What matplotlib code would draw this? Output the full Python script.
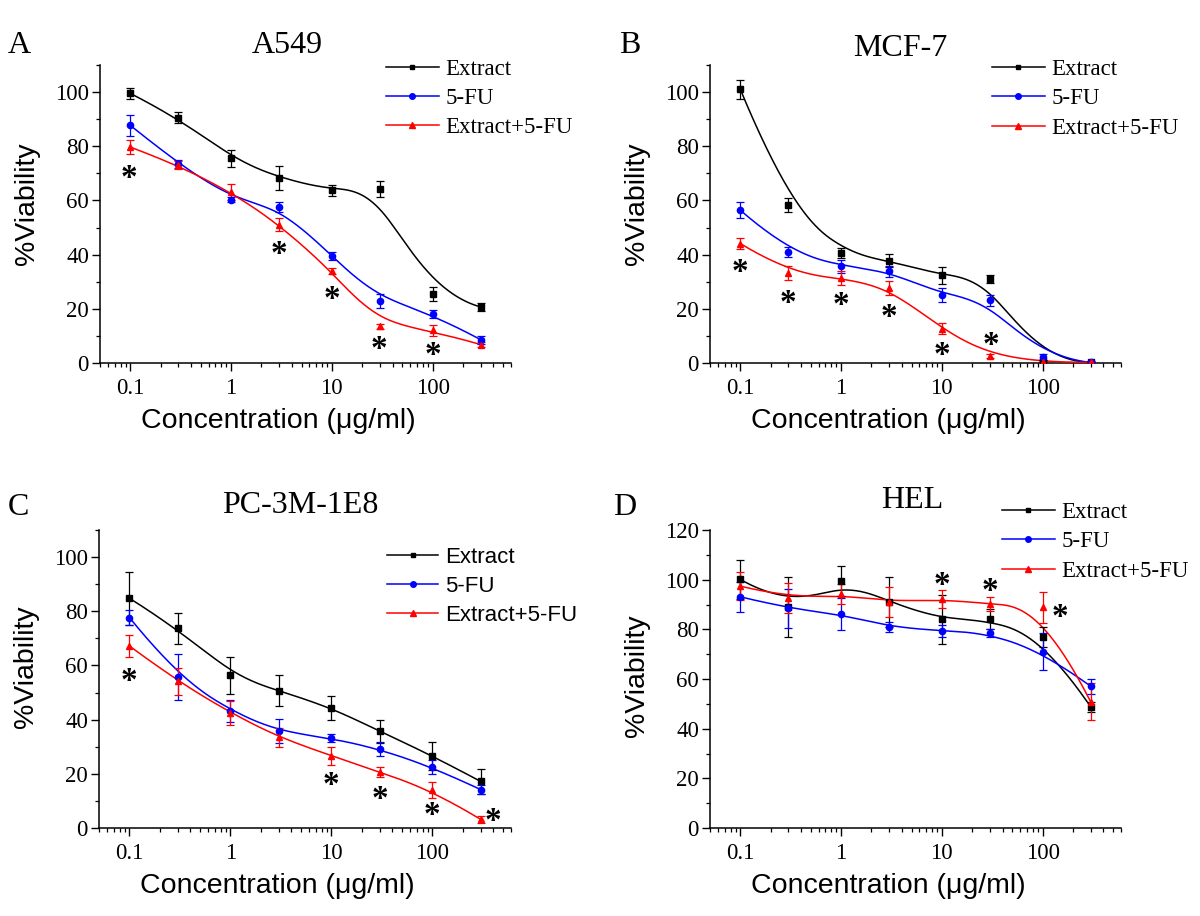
import numpy as np
import matplotlib
matplotlib.use("Agg")
import matplotlib.pyplot as plt
from matplotlib.lines import Line2D
from matplotlib.ticker import LogLocator, NullFormatter, FixedLocator, MultipleLocator
from matplotlib.textpath import TextPath
from matplotlib.font_manager import FontProperties

# ---------------- data ----------------
conc = [0.1, 0.3, 1, 3, 10, 30, 100, 300]
conc_labels = ["0.1", "1", "10", "100"]
conc_ticks = [0.1, 1, 10, 100]
series_names = ["Extract", "5-FU", "Extract+5-FU"]

# Panel A  (A549)
a549_extract = [99.5, 90.5, 75.5, 68.4, 63.7, 64.3, 25.5, 20.7]
a549_extract_err = [2.0, 2.0, 3.0, 4.5, 2.0, 3.0, 2.5, 1.5]
a549_fu = [87.7, 73.5, 60.3, 57.6, 39.6, 22.9, 18.2, 8.6]
a549_fu_err = [4.0, 1.5, 1.0, 2.0, 1.5, 2.5, 1.5, 1.5]
a549_combo = [79.7, 73.0, 63.2, 51.1, 33.9, 13.5, 12.0, 6.8]
a549_combo_err = [2.5, 1.5, 3.0, 2.5, 1.0, 1.0, 2.0, 1.0]
a549_star_x = [0.096, 3, 10, 29, 100]
a549_star_y = [70.8, 42.5, 25.9, 7.6, 5.5]

# Panel B  (MCF-7)
mcf7_extract = [101.0, 58.3, 40.6, 37.8, 32.3, 31.0, 0.6, 0.2]
mcf7_extract_err = [3.5, 2.5, 2.0, 2.5, 3.0, 1.5, 0.4, 0.3]
mcf7_fu = [56.4, 41.0, 35.7, 33.9, 25.2, 23.1, 2.2, 0.2]
mcf7_fu_err = [3.0, 2.0, 2.5, 2.0, 2.5, 2.0, 1.0, 0.4]
mcf7_combo = [44.1, 33.3, 31.4, 27.7, 12.6, 2.7, 0.3, 0.2]
mcf7_combo_err = [2.0, 2.5, 2.5, 2.5, 2.0, 0.8, 0.3, 0.3]
mcf7_star_x = [0.1, 0.3, 1, 3, 10, 31]
mcf7_star_y = [36.1, 24.6, 23.8, 19.3, 5.5, 9.2]

# Panel C  (PC-3M-1E8)
pc3_extract = [84.8, 73.7, 56.4, 50.7, 44.4, 35.7, 26.7, 17.2]
pc3_extract_err = [9.7, 5.7, 6.8, 5.7, 4.4, 4.3, 5.2, 4.6]
pc3_fu = [77.7, 55.8, 43.1, 35.7, 33.1, 29.2, 22.5, 14.2]
pc3_fu_err = [2.7, 8.4, 4.0, 4.5, 1.5, 2.7, 2.7, 1.5]
pc3_combo = [67.2, 54.1, 42.5, 33.5, 26.7, 20.6, 13.9, 3.2]
pc3_combo_err = [4.0, 5.0, 4.5, 3.5, 3.3, 1.8, 3.0, 1.2]
pc3_star_x = [0.1, 10, 30, 100, 400]
pc3_star_y = [56.8, 18.2, 13.3, 7.1, 5.0]

# Panel D  (HEL)
hel_extract = [100.1, 89.1, 99.6, 91.1, 84.0, 84.0, 77.0, 48.8]
hel_extract_err = [7.8, 12.0, 6.0, 10.0, 10.0, 4.0, 4.0, 2.0]
hel_fu = [93.1, 88.4, 86.2, 81.0, 79.4, 78.6, 71.0, 57.1]
hel_fu_err = [6.0, 8.0, 6.5, 2.0, 2.5, 1.5, 7.5, 3.0]
hel_combo = [97.4, 92.7, 94.1, 91.1, 92.1, 90.2, 88.8, 50.8]
hel_combo_err = [5.5, 6.0, 4.0, 6.0, 3.7, 2.7, 6.4, 7.4]
hel_star_x = [10, 30, 148]
hel_star_y = [100.5, 98.3, 87.8]

# ---------------- helpers ----------------
SERIF = "Liberation Serif"
SANS = "Liberation Sans"
COLORS = ["black", "#0000ff", "#ff0000"]
MARKERS = ["s", "o", "^"]
MSIZES = [4.0, 4.5, 5.0]


def bspline_curve(xs, ys, npts=400, k=3):
    """Clamped uniform cubic B-spline using the data points as control points (log-x space)."""
    px = np.log10(np.asarray(xs, float))
    py = np.asarray(ys, float)
    m = len(px)
    t = np.r_[np.zeros(k + 1), np.arange(1, m - k), np.full(k + 1, m - k)].astype(float)
    u = np.linspace(0, m - k, npts)
    nk = len(t)
    N = np.zeros((npts, nk - 1))
    for i in range(nk - 1):
        if t[i] < t[i + 1]:
            N[:, i] = (u >= t[i]) & (u < t[i + 1])
    last = max(i for i in range(nk - 1) if t[i] < t[i + 1])
    N[-1, :] = 0
    N[-1, last] = 1
    for d in range(1, k + 1):
        Nn = np.zeros((npts, nk - 1 - d))
        for i in range(nk - 1 - d):
            a = np.zeros(npts)
            b = np.zeros(npts)
            den1 = t[i + d] - t[i]
            den2 = t[i + d + 1] - t[i + 1]
            if den1 > 0:
                a = (u - t[i]) / den1 * N[:, i]
            if den2 > 0:
                b = (t[i + d + 1] - u) / den2 * N[:, i + 1]
            Nn[:, i] = a + b
        N = Nn
    cx = N @ px
    cy = N @ py
    return 10 ** cx, cy


def star(ax, xs, ys, ink_h_px=12.5):
    prop = FontProperties(family=SERIF, weight="bold")
    tp = TextPath((0, 0), "*", size=1, prop=prop)
    ext = tp.get_extents()
    ink_h_pt = ink_h_px * 72 / fig.dpi
    fs = ink_h_pt / ext.height
    cx = (ext.x0 + ext.x1) / 2 * fs
    cy = (ext.y0 + ext.y1) / 2 * fs
    for x, y in zip(xs, ys):
        ax.annotate("*", xy=(x, y), xytext=(-cx, -cy), textcoords="offset points",
                    ha="left", va="baseline", fontsize=fs, family=SERIF, weight="bold",
                    color="black")


def px2fig(x, y):
    return x / W, 1 - y / H


W, H = 1200, 916
fig = plt.figure(figsize=(W / 100, H / 100), dpi=100)

panels = [
    dict(box=(100, 363, 411, 298), ylim=(0, 110), ymajor=20,
         data=[(a549_extract, a549_extract_err), (a549_fu, a549_fu_err), (a549_combo, a549_combo_err)],
         stars=(a549_star_x, a549_star_y), title="A549", title_xy=(287, 53), letter="A", letter_xy=(8, 53),
         leg_xy=(386, 58.5), leg_font=SERIF, leg_fs=16.5, ylab_y=0.534),
    dict(box=(710, 363, 411, 298), ylim=(0, 110), ymajor=20,
         data=[(mcf7_extract, mcf7_extract_err), (mcf7_fu, mcf7_fu_err), (mcf7_combo, mcf7_combo_err)],
         stars=(mcf7_star_x, mcf7_star_y), title="MCF-7", title_xy=(900, 56), letter="B", letter_xy=(619, 53),
         leg_xy=(992, 59), leg_font=SERIF, leg_fs=16.5, ylab_y=0.534),
    dict(box=(99, 828, 412, 298), ylim=(0, 110), ymajor=20,
         data=[(pc3_extract, pc3_extract_err), (pc3_fu, pc3_fu_err), (pc3_combo, pc3_combo_err)],
         stars=(pc3_star_x, pc3_star_y), title="PC-3M-1E8", title_xy=(300, 513), letter="C", letter_xy=(8, 515),
         leg_xy=(387, 547), leg_font=SANS, leg_fs=16, ylab_y=0.54),
    dict(box=(710, 828, 411, 298), ylim=(0, 120), ymajor=20,
         data=[(hel_extract, hel_extract_err), (hel_fu, hel_fu_err), (hel_combo, hel_combo_err)],
         stars=(hel_star_x, hel_star_y), title="HEL", title_xy=(912, 508), letter="D", letter_xy=(613, 515),
         leg_xy=(1002, 502), leg_font=SERIF, leg_fs=16.5, ylab_y=0.51),
]

for p in panels:
    left, bottom, w, h = p["box"]
    ax = fig.add_axes([left / W, 1 - bottom / H, w / W, h / H])
    ax.set_xscale("log")
    ax.set_xlim(0.05, 600)
    ax.set_ylim(*p["ylim"])
    for s in ["top", "right"]:
        ax.spines[s].set_visible(False)
    for s in ["left", "bottom"]:
        ax.spines[s].set_linewidth(1.1)
    handles = []
    for (vals, errs), c, mk, ms, name in zip(p["data"], COLORS, MARKERS, MSIZES, series_names):
        cx, cy = bspline_curve(conc, vals)
        ax.plot(cx, cy, color=c, lw=1.1, zorder=3)
        ax.errorbar(conc, vals, yerr=errs, fmt="none", ecolor=c, elinewidth=0.9,
                    capsize=3.2, capthick=0.9, zorder=4)
        ax.plot(conc, vals, linestyle="none", marker=mk, ms=ms, color=c, zorder=5)
        handles.append(Line2D([], [], color=c, lw=1.1, marker=mk, ms=ms - 0.5))
    ax.xaxis.set_major_locator(FixedLocator(conc_ticks))
    ax.set_xticklabels(conc_labels)
    ax.xaxis.set_minor_locator(LogLocator(base=10, subs=np.arange(2, 10), numticks=20))
    ax.xaxis.set_minor_formatter(NullFormatter())
    ax.yaxis.set_major_locator(MultipleLocator(p["ymajor"]))
    ax.yaxis.set_minor_locator(MultipleLocator(p["ymajor"] / 2))
    ax.tick_params(which="major", direction="out", length=5.5, width=1.0, labelsize=16.5)
    ax.tick_params(which="minor", direction="out", length=3.0, width=0.9)
    ax.tick_params(axis="x", which="major", pad=5)
    ax.tick_params(axis="y", which="major", pad=2.5)
    for lab in ax.get_xticklabels() + ax.get_yticklabels():
        lab.set_family(SERIF)
    ax.set_xlabel("Concentration (\u03bcg/ml)", family=SANS, fontsize=20.5)
    ax.set_ylabel("%Viability", family=SANS, fontsize=20.5)
    ax.xaxis.set_label_coords(0.433, -0.15)
    ax.yaxis.set_label_coords(-0.146, p["ylab_y"])
    star(ax, *p["stars"])
    tx, ty = px2fig(*p["title_xy"])
    fig.text(tx, ty, p["title"], ha="center", va="baseline", family=SERIF, fontsize=23)
    lx, ly = px2fig(*p["letter_xy"])
    fig.text(lx, ly, p["letter"], ha="left", va="baseline", family=SERIF, fontsize=23)
    gx, gy = px2fig(*p["leg_xy"])
    ax.legend(handles, series_names, loc="upper left", bbox_to_anchor=(gx, gy),
              bbox_transform=fig.transFigure, frameon=False, borderpad=0, borderaxespad=0,
              handlelength=2.3, handletextpad=0.3, labelspacing=0.36, numpoints=1,
              prop=FontProperties(family=p["leg_font"], size=p["leg_fs"]))

fig.savefig("out.png", dpi=100)
